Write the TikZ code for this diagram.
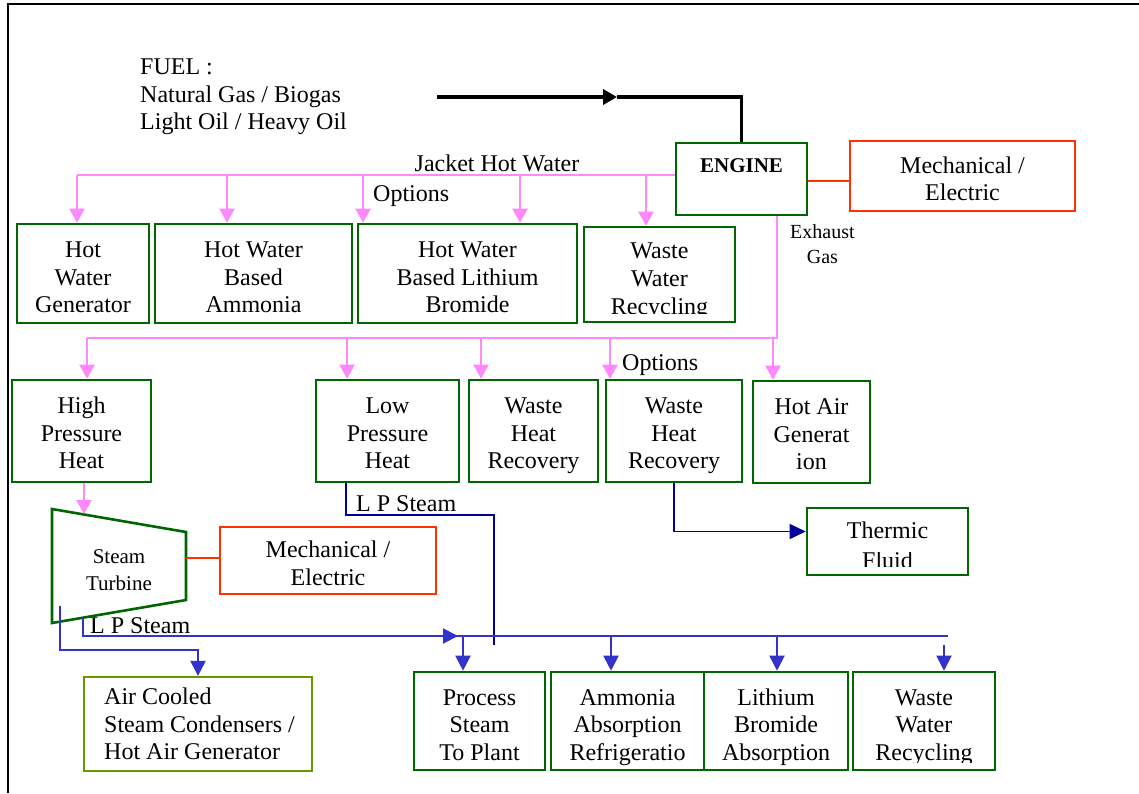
\documentclass[tikz,border=0pt]{standalone}
\usepackage{fontspec}
\setmainfont{Liberation Serif}
\usepackage{adjustbox}
\usetikzlibrary{arrows.meta}
\definecolor{dgreen}{RGB}{0,102,0}
\definecolor{lgreen}{RGB}{102,153,0}
\definecolor{ored}{RGB}{255,51,0}
\definecolor{pinkc}{RGB}{255,136,255}
\definecolor{bluec}{RGB}{51,51,204}
\definecolor{navyc}{RGB}{0,0,153}
\tikzset{
  base/.style={font=\fontsize{24}{27.5}\selectfont, align=center, inner sep=0pt},
  three/.style={text height=84.5pt, text depth=6pt},
  threeb/.style={text height=81.5pt, text depth=6pt},
  two/.style={text height=55pt, text depth=6pt},
  gbox/.style={base, draw=dgreen, line width=2.6pt},
  obox/.style={base, draw=ored, line width=2pt},
  lbox/.style={base, draw=lgreen, line width=2.2pt},
  txt/.style={base},
  pinkln/.style={draw=pinkc, line width=2.2pt},
  pinkarr/.style={pinkln, -{Triangle[width=15pt,length=14pt]}},
  blueln/.style={draw=bluec, line width=2pt},
  bluearr/.style={blueln, -{Triangle[width=15pt,length=15pt]}},
  navyln/.style={draw=navyc, line width=1.6pt},
  navyarr/.style={navyln, -{Triangle[width=15pt,length=16pt]}},
  orangeln/.style={draw=ored, line width=2pt},
  fuelln/.style={draw=black, line width=3.5pt},
  fuelarr/.style={fuelln, -{Triangle[width=15pt,length=14pt]}},
}
\newcommand{\cutrec}[1]{{\clipbox{0pt #1 0pt 0pt}{Recycling}\vphantom{y}}}
\begin{document}
\begin{tikzpicture}[x=1pt,y=-1pt]
\useasboundingbox (0,0) rectangle (1139,793);
% frame
\draw[line width=2.5pt] (8,793) -- (8,4) -- (1139,4);

% fuel
\node[txt, align=left, anchor=west] (fuel) at (140,97) {FUEL :\\Natural Gas / Biogas\\Light Oil / Heavy Oil};
\coordinate (f0) at (437,97);
\coordinate (fmid) at (617,97);

% engine and mechanical
\node[gbox, minimum width=131pt, minimum height=72pt] (engine) at (741.5,179) {};
\node[txt, font=\bfseries\fontsize{21}{25}\selectfont] (enginet) at (741.5,166) {ENGINE};
\node[obox, two, minimum width=225pt, minimum height=70pt] (mech1) at (962.5,176) {Mechanical /\\Electric};

\draw[fuelarr] (f0) -- (fmid);
\draw[fuelln] (fmid) -| (engine.north);
\draw[orangeln] ([yshift=-2pt]engine.east) -- ([yshift=-2pt]engine.east -| mech1.west);

% jacket hot water
\node[txt] (jhw) at (497,163) {Jacket Hot Water};
\node[txt, anchor=west] (opt1) at (373,196) {Options};
\node[txt, anchor=west, font=\fontsize{20}{25}\selectfont] (exh) at (790,244) {Exhaust\\Gas};

\node[gbox, three, minimum width=132pt, minimum height=99pt] (hwg) at (83,273.5) {Hot\\Water\\Generator};
\node[gbox, three, minimum width=197pt, minimum height=99pt] (hwa) at (253.5,273.5) {Hot Water\\Based\\Ammonia};
\node[gbox, three, minimum width=219pt, minimum height=99pt] (hwl) at (467.5,273.5) {Hot Water\\Based Lithium\\Bromide};
\node[gbox, three, minimum width=151pt, minimum height=95pt] (wwr1) at (659.5,274.5) {Waste\\Water\\\cutrec{6pt}};

\coordinate (jL) at (77,175);
\coordinate (j2) at (227,175);
\coordinate (j3) at (363,175);
\coordinate (j4) at (520,175);
\coordinate (j5) at (646,175);
\draw[pinkln] ([yshift=4pt]engine.west) -- (j5) -- (j4) -- (j3) -- (j2) -- (jL);
\draw[pinkarr] (jL) -- (jL |- hwg.north);
\draw[pinkarr] (j2) -- (j2 |- hwa.north);
\draw[pinkarr] (j3) -- (j3 |- hwl.north);
\draw[pinkarr] (j4) -- (j4 |- hwl.north);
\draw[pinkarr] (j5) -- (j5 |- wwr1.north);

% exhaust gas row
\node[gbox, threeb, minimum width=139pt, minimum height=102pt] (hph) at (81.5,431) {High\\Pressure\\Heat};
\node[gbox, threeb, minimum width=143pt, minimum height=102pt] (lph) at (387.5,431) {Low\\Pressure\\Heat};
\node[gbox, threeb, minimum width=129pt, minimum height=102pt] (whr1) at (533.5,431) {Waste\\Heat\\Recovery};
\node[gbox, threeb, minimum width=136pt, minimum height=102pt] (whr2) at (674,431) {Waste\\Heat\\Recovery};
\node[gbox, threeb, minimum width=117pt, minimum height=102pt] (hag) at (811.5,432) {Hot Air\\Generat\\ion};
\node[txt, anchor=west] (opt2) at (622,365) {Options};

\coordinate (eL) at (87,338);
\coordinate (e2) at (347,338);
\coordinate (e3) at (481,338);
\coordinate (e4) at (610,338);
\coordinate (e5) at (773,338);
\draw[pinkln] ([xshift=35.5pt]engine.south) |- (eL);
\draw[pinkarr] (eL) -- (eL |- hph.north);
\draw[pinkarr] (e2) -- (e2 |- lph.north);
\draw[pinkarr] (e3) -- (e3 |- whr1.north);
\draw[pinkarr] (e4) -- (e4 |- whr2.north);
\draw[pinkarr] (e5) -- (e5 |- hag.north);

% steam turbine
\coordinate (tA) at (52,509);
\coordinate (tB) at (186,532);
\coordinate (tC) at (186,600);
\coordinate (tD) at (52,623);
\draw[draw=dgreen, line width=2.6pt] (tA) -- (tB) -- (tC) -- (tD) -- cycle;
\node[txt, font=\fontsize{21}{27}\selectfont] (turb) at (119,570) {Steam\\Turbine};
\coordinate (turbtop) at (84,514);
\coordinate (turbR) at (186,558);
\coordinate (tb1) at (83,618);
\coordinate (tb2) at (60,606);
\draw[pinkarr] ([xshift=2.5pt]hph.south) -- (turbtop);

\node[obox, two, minimum width=216pt, minimum height=67pt] (mech2) at (328,560.5) {Mechanical /\\Electric};
\draw[orangeln] (turbR) -- (turbR -| mech2.west);

% thermic fluid
\node[gbox, two, minimum width=161pt, minimum height=67pt] (therm) at (887.5,541.5) {Thermic\\{\clipbox{0pt 3pt 0pt 0pt}{Fluid}}};
\draw[navyarr] (whr2.south) |- ([yshift=10pt]therm.west);

% L P steam from low pressure heat
\node[txt, anchor=west] (lps1) at (356,504) {L P Steam};
\coordinate (lpc) at (494,515);
\coordinate (lpend) at (494,645);
\draw[navyln] ([xshift=31pt]lph.south west) |- (lpc) -- (lpend);

% L P steam from turbine
\node[txt, anchor=west] (lps2) at (90,626) {L P Steam};
\coordinate (busL) at (458,636);
\coordinate (b1) at (463,636);
\coordinate (b2) at (611,636);
\coordinate (b3) at (777,636);
\coordinate (b4) at (944,636);
\coordinate (busR) at (948,636);
\draw[bluearr] (tb1) |- (busL);
\draw[blueln] ([xshift=-3pt]busL) -- (busR);

% air cooled
\node[lbox, minimum width=228pt, minimum height=94pt] (acsc) at (198,724) {};
\node[txt, align=left, anchor=west] (acsct) at (104,724) {Air Cooled\\Steam Condensers /\\Hot Air Generator};
\draw[bluearr] (tb2) -- ++(0,44) -| (acsc.north);

% bottom row
\node[gbox, three, minimum width=131pt, minimum height=98pt] (pstp) at (479.5,721) {Process\\Steam\\To Plant};
\node[gbox, three, minimum width=153pt, minimum height=98pt] (aar) at (627.5,721) {Ammonia\\Absorption\\Refrigeratio};
\node[gbox, three, minimum width=144pt, minimum height=98pt] (lba) at (776,721) {Lithium\\Bromide\\Absorption};
\node[gbox, three, minimum width=142pt, minimum height=98pt] (wwr2) at (924,721) {Waste\\Water\\\cutrec{3pt}};

\draw[bluearr] (b1) -- (b1 |- pstp.north);
\draw[bluearr] (b2) -- (b2 |- aar.north);
\draw[bluearr] (b3) -- (b3 |- lba.north);
\draw[bluearr] ([yshift=-9pt]b4) -- (b4 |- wwr2.north);
\end{tikzpicture}
\end{document}
